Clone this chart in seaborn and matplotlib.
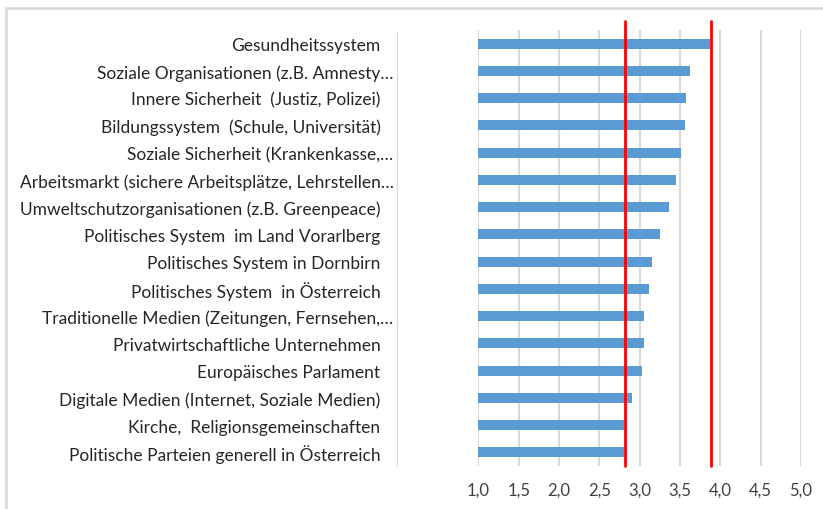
import matplotlib
matplotlib.use("Agg")
import matplotlib.pyplot as plt
import matplotlib.transforms as mtransforms
import seaborn as sns
import pandas as pd
from matplotlib.lines import Line2D

categories = [
    "Gesundheitssystem",
    "Soziale Organisationen (z.B. Amnesty\u2026",
    "Innere Sicherheit  (Justiz, Polizei)",
    "Bildungssystem  (Schule, Universit\u00e4t)",
    "Soziale Sicherheit (Krankenkasse,\u2026",
    "Arbeitsmarkt (sichere Arbeitspl\u00e4tze, Lehrstellen\u2026",
    "Umweltschutzorganisationen (z.B. Greenpeace)",
    "Politisches System  im Land Vorarlberg",
    "Politisches System in Dornbirn",
    "Politisches System  in \u00d6sterreich",
    "Traditionelle Medien (Zeitungen, Fernsehen,\u2026",
    "Privatwirtschaftliche Unternehmen",
    "Europ\u00e4isches Parlament",
    "Digitale Medien (Internet, Soziale Medien)",
    "Kirche,  Religionsgemeinschaften",
    "Politische Parteien generell in \u00d6sterreich",
]
values = [3.87, 3.63, 3.58, 3.56, 3.51, 3.45, 3.36, 3.25,
          3.15, 3.11, 3.05, 3.05, 3.03, 2.90, 2.81, 2.81]
ref_lines = [2.82, 3.88]
xticks = [1.0, 1.5, 2.0, 2.5, 3.0, 3.5, 4.0, 4.5, 5.0]

df = pd.DataFrame({"item": categories, "value": values})

sns.set_style("white")
plt.rcParams["font.family"] = ["Lato", "DejaVu Sans"]

W, H = 823, 510
fig = plt.figure(figsize=(W / 100, H / 100), dpi=100)
ax = fig.add_axes([478.3 / W, 1 - 467 / H, (801 - 478.3) / W, (467 - 31.1) / H])

sns.barplot(data=df, x="value", y="item", color="#5b9bd5", width=0.37,
            saturation=1, linewidth=0, ax=ax, zorder=2)

ax.set_xlim(1, 5)
ax.set_ylim(15.5, -0.5)
ax.set_xticks(xticks)
ax.set_xticklabels([f"{t:.1f}".replace(".", ",") for t in xticks],
                   fontsize=12, color="#404040")
ax.tick_params(axis="x", length=0, pad=11)
ax.tick_params(axis="y", length=0, pad=70.5, labelsize=12.5, labelcolor="#262626")
shift = mtransforms.ScaledTranslation(13 / 100, 0, fig.dpi_scale_trans)
for lbl in ax.get_yticklabels():
    lbl.set_horizontalalignment("right")
    if lbl.get_text().endswith("\u2026"):
        lbl.set_transform(lbl.get_transform() + shift)
ax.set_xlabel("")
ax.set_ylabel("")
for s in ax.spines.values():
    s.set_visible(False)
ax.grid(axis="x", color="#d9d9d9", linewidth=1.5, zorder=0)
ax.set_axisbelow(True)

for v in ref_lines:
    ax.axvline(v, ymin=0, ymax=(467 - 22) / (467 - 31.1), color="#ff0000",
               linewidth=2, clip_on=False, zorder=3)

# thin y axis line left of the plot area and the chart frame
fig.add_artist(Line2D([397 / W, 397 / W], [1 - 467 / H, 1 - 32 / H],
                      color="#d9d9d9", linewidth=0.8))
fig.add_artist(Line2D([6 / W, 6 / W, 1.0], [0.0, 1 - 9 / H, 1 - 9 / H],
                      color="#d9d9d9", linewidth=1.8))

fig.savefig("out.png", dpi=100)
